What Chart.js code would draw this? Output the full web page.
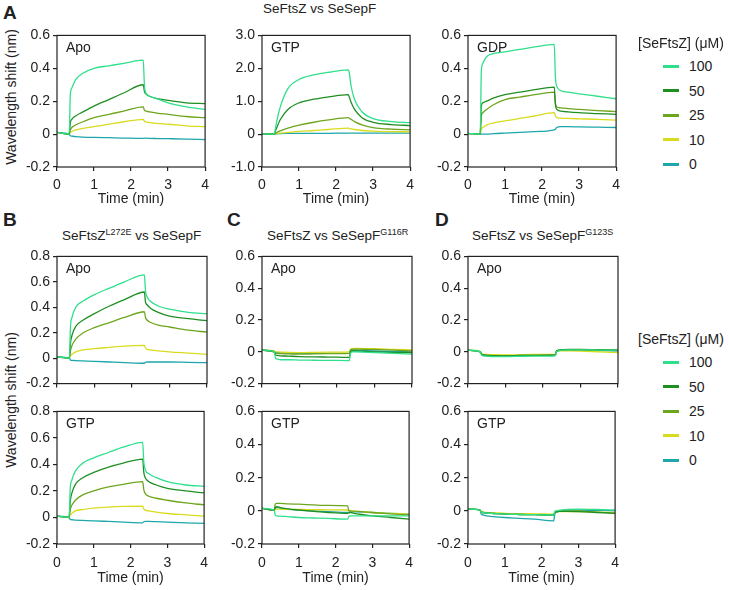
<!DOCTYPE html>
<html>
<head>
<meta charset="utf-8">
<script src="https://cdn.jsdelivr.net/npm/chart.js@4.4.1/dist/chart.umd.min.js"></script>
<style>
body { margin: 0; background: #fff; font-family: "Liberation Sans", Arial, sans-serif; color: #222; }
#fig { position: relative; width: 729px; height: 590px; overflow: hidden; }
#fig canvas { position: absolute; }
.t { position: absolute; white-space: nowrap; line-height: 1; }
.t sup { font-size: 9px; vertical-align: 0; position: relative; top: -5px; }
.letter { font-weight: bold; font-size: 19px; }
.ttl { font-size: 13.5px; }
.lab { font-size: 14px; }
.ytitle { font-size: 14px; transform: translate(-50%, -50%) rotate(-90deg); }
.leg { font-size: 14px; }
.swatch { position: absolute; width: 16px; height: 3px; }
</style>
</head>
<body>
<div id="fig">
  <div class="t letter" style="left:3px;top:3px">A</div>
  <div class="t letter" style="left:3px;top:210px">B</div>
  <div class="t letter" style="left:227px;top:210px">C</div>
  <div class="t letter" style="left:435px;top:210px">D</div>

  <div class="t ttl" style="left:263px;top:2px">SeFtsZ vs SeSepF</div>
  <div class="t ttl" style="left:62px;top:229px">SeFtsZ<sup>L272E</sup> vs SeSepF</div>
  <div class="t ttl" style="left:267px;top:229px">SeFtsZ vs SeSepF<sup>G116R</sup></div>
  <div class="t ttl" style="left:472px;top:229px">SeFtsZ vs SeSepF<sup>G123S</sup></div>

  <div class="t ytitle" style="left:11px;top:97px">Wavelength shift (nm)</div>
  <div class="t ytitle" style="left:11px;top:400px">Wavelength shift (nm)</div>
</div>
<script>
// time axis (min) shared by every sensorgram
var times = [0, 0.33, 0.36, 0.4, 0.5, 0.7, 1.0, 1.4, 1.8, 2.33, 2.36, 2.4, 2.5, 2.7, 3.0, 3.5, 4.0];

var concLabels = ['100', '50', '25', '10', '0'];
var concColors = ['#2fdf8c', '#1f8f22', '#6ea51e', '#d9dc1e', '#1fa6ab'];
var xTicks = [0, 1, 2, 3, 4];

// A: SeFtsZ vs SeSepF, rows = 100, 50, 25, 10, 0 uM
var wtApo = [
  [0.01, 0.0, 0.24, 0.28, 0.33, 0.37, 0.40, 0.415, 0.43, 0.45, 0.30, 0.25, 0.23, 0.215, 0.19, 0.165, 0.15],
  [0.01, 0.0, 0.07, 0.09, 0.11, 0.135, 0.17, 0.21, 0.25, 0.30, 0.26, 0.245, 0.23, 0.215, 0.205, 0.19, 0.185],
  [0.01, 0.0, 0.025, 0.04, 0.055, 0.075, 0.10, 0.12, 0.14, 0.165, 0.145, 0.14, 0.135, 0.128, 0.12, 0.107, 0.10],
  [0.01, 0.0, 0.01, 0.015, 0.025, 0.035, 0.045, 0.06, 0.075, 0.09, 0.078, 0.075, 0.07, 0.065, 0.06, 0.05, 0.045],
  [0.01, 0.0, -0.01, -0.012, -0.015, -0.018, -0.02, -0.022, -0.024, -0.026, -0.025, -0.025, -0.026, -0.027, -0.028, -0.03, -0.033]
];
var wtGtp = [
  [0, 0, 0.15, 0.4, 0.85, 1.38, 1.66, 1.8, 1.88, 1.95, 1.85, 1.5, 1.05, 0.68, 0.47, 0.38, 0.35],
  [0, 0, 0.08, 0.2, 0.45, 0.75, 0.95, 1.06, 1.13, 1.2, 1.12, 0.98, 0.75, 0.5, 0.36, 0.29, 0.26],
  [0, 0, 0.02, 0.05, 0.1, 0.18, 0.27, 0.36, 0.43, 0.5, 0.48, 0.45, 0.38, 0.28, 0.2, 0.15, 0.13],
  [0, 0, 0.01, 0.02, 0.03, 0.05, 0.08, 0.11, 0.14, 0.18, 0.17, 0.16, 0.14, 0.11, 0.09, 0.075, 0.07],
  [0, 0, 0.01, 0.01, 0.015, 0.02, 0.02, 0.025, 0.025, 0.03, 0.03, 0.03, 0.03, 0.03, 0.03, 0.03, 0.03]
];
var wtGdp = [
  [0.005, 0.0, 0.38, 0.43, 0.47, 0.49, 0.50, 0.515, 0.53, 0.545, 0.35, 0.29, 0.265, 0.255, 0.245, 0.23, 0.215],
  [0.005, 0.0, 0.17, 0.19, 0.20, 0.22, 0.24, 0.255, 0.27, 0.285, 0.18, 0.15, 0.14, 0.135, 0.13, 0.125, 0.12],
  [0.005, 0.0, 0.11, 0.13, 0.15, 0.18, 0.21, 0.225, 0.24, 0.255, 0.19, 0.165, 0.16, 0.155, 0.15, 0.143, 0.137],
  [0.005, 0.0, 0.03, 0.04, 0.055, 0.068, 0.08, 0.095, 0.11, 0.13, 0.11, 0.10, 0.097, 0.095, 0.093, 0.09, 0.085],
  [0.005, 0.0, 0.0, 0.0, 0.0, 0.003, 0.006, 0.01, 0.015, 0.026, 0.03, 0.04, 0.045, 0.045, 0.044, 0.042, 0.04]
];

// B: SeFtsZ L272E vs SeSepF
var l272eApo = [
  [0.01, 0.0, 0.25, 0.32, 0.40, 0.45, 0.50, 0.55, 0.60, 0.655, 0.53, 0.485, 0.445, 0.41, 0.385, 0.36, 0.35],
  [0.01, 0.0, 0.12, 0.18, 0.25, 0.30, 0.35, 0.41, 0.46, 0.52, 0.44, 0.42, 0.39, 0.36, 0.33, 0.31, 0.295],
  [0.01, 0.0, 0.06, 0.1, 0.15, 0.2, 0.24, 0.28, 0.32, 0.365, 0.32, 0.30, 0.28, 0.26, 0.245, 0.22, 0.205],
  [0.01, 0.0, 0.02, 0.03, 0.05, 0.065, 0.075, 0.085, 0.095, 0.10, 0.08, 0.07, 0.065, 0.058, 0.05, 0.04, 0.03],
  [0.01, 0.0, -0.015, -0.017, -0.02, -0.022, -0.025, -0.03, -0.035, -0.04, -0.032, -0.03, -0.03, -0.03, -0.03, -0.033, -0.035]
];
var l272eGtp = [
  [0.01, 0.0, 0.22, 0.28, 0.35, 0.41, 0.45, 0.49, 0.53, 0.567, 0.42, 0.36, 0.33, 0.30, 0.27, 0.245, 0.235],
  [0.01, 0.0, 0.12, 0.18, 0.25, 0.30, 0.34, 0.38, 0.41, 0.44, 0.34, 0.30, 0.27, 0.245, 0.22, 0.2, 0.185],
  [0.01, 0.0, 0.06, 0.09, 0.13, 0.17, 0.20, 0.23, 0.25, 0.27, 0.21, 0.18, 0.16, 0.145, 0.13, 0.11, 0.095],
  [0.01, 0.0, 0.02, 0.03, 0.05, 0.06, 0.07, 0.078, 0.083, 0.085, 0.065, 0.055, 0.05, 0.04, 0.03, 0.02, 0.01],
  [0.01, 0.0, -0.015, -0.017, -0.02, -0.022, -0.025, -0.03, -0.035, -0.04, -0.032, -0.03, -0.03, -0.032, -0.035, -0.04, -0.045]
];

// C: SeFtsZ vs SeSepF G116R
var g116rApo = [
  [0.01, 0.0, -0.04, -0.045, -0.05, -0.05, -0.052, -0.053, -0.054, -0.055, -0.01, 0.0, 0.0, -0.002, -0.005, -0.01, -0.015],
  [0.01, 0.0, -0.02, -0.022, -0.025, -0.027, -0.03, -0.032, -0.033, -0.035, 0.0, 0.005, 0.005, 0.003, 0.0, -0.003, -0.005],
  [0.01, 0.0, -0.01, -0.01, -0.012, -0.013, -0.015, -0.013, -0.012, -0.01, 0.01, 0.015, 0.017, 0.016, 0.015, 0.01, 0.005],
  [0.01, 0.005, 0.0, 0.0, -0.002, -0.003, -0.005, -0.003, -0.002, 0.0, 0.015, 0.02, 0.022, 0.02, 0.02, 0.015, 0.012],
  [0.01, 0.0, -0.005, -0.006, -0.007, -0.008, -0.01, -0.01, -0.01, -0.01, 0.005, 0.01, 0.01, 0.008, 0.005, 0.002, 0.0]
];
var g116rGtp = [
  [0.015, 0.005, -0.025, -0.03, -0.032, -0.035, -0.04, -0.043, -0.046, -0.05, -0.035, -0.03, -0.03, -0.03, -0.03, -0.03, -0.03],
  [0.015, 0.005, 0.02, 0.025, 0.02, 0.012, 0.005, -0.003, -0.01, -0.015, -0.012, -0.01, -0.015, -0.022, -0.03, -0.04, -0.05],
  [0.015, 0.005, 0.04, 0.045, 0.045, 0.042, 0.04, 0.036, 0.033, 0.03, 0.002, 0.0, -0.002, -0.005, -0.01, -0.018, -0.025],
  [0.015, 0.005, 0.008, 0.01, 0.01, 0.009, 0.008, 0.007, 0.006, 0.005, 0.001, 0.0, -0.002, -0.005, -0.01, -0.015, -0.02],
  [0.015, 0.005, 0.015, 0.02, 0.015, 0.01, 0.005, 0.0, -0.005, -0.01, -0.007, -0.005, -0.006, -0.008, -0.01, -0.015, -0.02]
];

// D: SeFtsZ vs SeSepF G123S
var g123sApo = [
  [0.01, 0.0, -0.02, -0.025, -0.028, -0.03, -0.03, -0.028, -0.027, -0.025, 0.0, 0.005, 0.01, 0.012, 0.012, 0.011, 0.01],
  [0.01, 0.0, -0.015, -0.02, -0.022, -0.025, -0.025, -0.023, -0.022, -0.02, 0.005, 0.01, 0.014, 0.015, 0.015, 0.013, 0.012],
  [0.01, 0.0, -0.015, -0.02, -0.022, -0.024, -0.025, -0.023, -0.022, -0.02, 0.004, 0.008, 0.011, 0.012, 0.012, 0.011, 0.01],
  [0.01, 0.003, -0.01, -0.014, -0.016, -0.018, -0.02, -0.018, -0.017, -0.015, 0.0, 0.005, 0.006, 0.006, 0.005, 0.0, -0.005],
  [0.01, 0.0, -0.015, -0.02, -0.022, -0.024, -0.025, -0.023, -0.022, -0.02, 0.004, 0.008, 0.01, 0.01, 0.01, 0.007, 0.005]
];
var g123sGtp = [
  [0.01, 0.005, -0.008, -0.01, -0.013, -0.016, -0.02, -0.022, -0.023, -0.025, -0.005, 0.0, 0.005, 0.008, 0.01, 0.008, 0.005],
  [0.01, 0.005, -0.008, -0.01, -0.013, -0.016, -0.02, -0.022, -0.023, -0.025, -0.01, -0.005, -0.003, -0.003, -0.005, -0.01, -0.015],
  [0.01, 0.005, -0.008, -0.01, -0.013, -0.016, -0.02, -0.022, -0.023, -0.025, -0.01, -0.005, -0.002, 0.0, 0.0, -0.008, -0.015],
  [0.01, 0.005, -0.005, -0.007, -0.01, -0.012, -0.015, -0.017, -0.018, -0.02, -0.008, -0.005, -0.004, -0.004, -0.005, -0.008, -0.01],
  [0.01, 0.005, -0.02, -0.025, -0.03, -0.035, -0.04, -0.045, -0.05, -0.06, -0.02, -0.01, 0.0, 0.004, 0.005, 0.003, 0.0]
];

// layout of the nine panels (plot-area left/top in px)
var rows = [
  { top: 33, h: 134, axisH: 41, labels: true, pad: 6 },
  { top: 254, h: 135, axisH: 6, labels: false, pad: 6 },
  { top: 409, h: 135, axisH: 43, labels: true, pad: 7 }
];
var panels = [
  { data: wtApo, left: 57, row: 0, name: 'Apo', yMin: -0.2, yMax: 0.6, step: 0.2 },
  { data: wtGtp, left: 262, row: 0, name: 'GTP', yMin: -1, yMax: 3, step: 1 },
  { data: wtGdp, left: 468, row: 0, name: 'GDP', yMin: -0.2, yMax: 0.6, step: 0.2 },
  { data: l272eApo, left: 57, row: 1, name: 'Apo', yMin: -0.2, yMax: 0.8, step: 0.2 },
  { data: g116rApo, left: 262, row: 1, name: 'Apo', yMin: -0.2, yMax: 0.6, step: 0.2 },
  { data: g123sApo, left: 468, row: 1, name: 'Apo', yMin: -0.2, yMax: 0.6, step: 0.2 },
  { data: l272eGtp, left: 57, row: 2, name: 'GTP', yMin: -0.2, yMax: 0.8, step: 0.2 },
  { data: g116rGtp, left: 262, row: 2, name: 'GTP', yMin: -0.2, yMax: 0.6, step: 0.2 },
  { data: g123sGtp, left: 468, row: 2, name: 'GTP', yMin: -0.2, yMax: 0.6, step: 0.2 }
];
var legendTops = [66, 362];

var fig = document.getElementById('fig');
var INK = '#222';
var Y_W = 50, PAD_T = 9, PAD_R = 8, PLOT_W = 150;

// box around the plot area
var frame = {
  id: 'frame',
  afterDraw: function (chart) {
    var a = chart.chartArea, ctx = chart.ctx;
    ctx.save();
    ctx.strokeStyle = INK;
    ctx.lineWidth = 1.2;
    ctx.strokeRect(a.left, a.top, a.right - a.left, a.bottom - a.top);
    ctx.restore();
  }
};

function addText(cls, html, left, top) {
  var d = document.createElement('div');
  d.className = 't ' + cls;
  d.innerHTML = html;
  d.style.left = left + 'px';
  d.style.top = top + 'px';
  fig.appendChild(d);
}

panels.forEach(function (p) {
  var r = rows[p.row];
  var cv = document.createElement('canvas');
  cv.width = Y_W + PLOT_W + PAD_R;
  cv.height = PAD_T + r.h + r.axisH;
  cv.style.left = (p.left - Y_W) + 'px';
  cv.style.top = (r.top - PAD_T) + 'px';
  fig.appendChild(cv);

  var datasets = p.data.map(function (vals, i) {
    return {
      label: concLabels[i],
      data: times.map(function (t, k) { return { x: t, y: vals[k] }; }),
      borderColor: concColors[i],
      borderWidth: 1.3,
      pointRadius: 0,
      cubicInterpolationMode: 'monotone',
      fill: false
    };
  });

  new Chart(cv, {
    type: 'line',
    data: { datasets: datasets },
    options: {
      responsive: false,
      animation: false,
      events: [],
      layout: { padding: { top: PAD_T, right: PAD_R, left: 0, bottom: 0 } },
      plugins: { legend: { display: false }, tooltip: { enabled: false } },
      scales: {
        x: {
          type: 'linear', min: 0, max: 4,
          afterFit: function (s) { s.height = r.axisH; },
          afterBuildTicks: function (s) { s.ticks = xTicks.map(function (v) { return { value: v }; }); },
          border: { display: false },
          grid: { drawOnChartArea: false, drawTicks: true, tickLength: 4, color: INK, lineWidth: 1.2 },
          ticks: {
            display: r.labels, padding: r.pad, color: INK, maxRotation: 0,
            font: { family: 'Liberation Sans', size: 14 },
            callback: function (v) { return String(v); }
          },
          title: {
            display: r.labels, text: 'Time (min)', color: INK, padding: 0,
            font: { family: 'Liberation Sans', size: 14 }
          }
        },
        y: {
          min: p.yMin, max: p.yMax,
          afterFit: function (s) { s.width = Y_W; },
          border: { display: false },
          grid: { drawOnChartArea: false, drawTicks: true, tickLength: 4, color: INK, lineWidth: 1.2 },
          ticks: {
            stepSize: p.step, padding: 3, color: INK,
            font: { family: 'Liberation Sans', size: 14 },
            callback: function (v) { return Math.abs(v) < 1e-9 ? '0' : v.toFixed(1); }
          }
        }
      }
    },
    plugins: [frame]
  });

  addText('lab', p.name, p.left + 9, r.top + 7);
});

// concentration legends (right-hand side)
legendTops.forEach(function (top) {
  addText('leg', '[SeFtsZ] (\u03bcM)', 638, top - 30);
  concLabels.forEach(function (lab, i) {
    var y = top + i * 24.6;
    var sw = document.createElement('div');
    sw.className = 'swatch';
    sw.style.left = '663px';
    sw.style.top = (y - 1.5) + 'px';
    sw.style.background = concColors[i];
    fig.appendChild(sw);
    addText('leg', lab, 689, y - 7);
  });
});
</script>
</body>
</html>
